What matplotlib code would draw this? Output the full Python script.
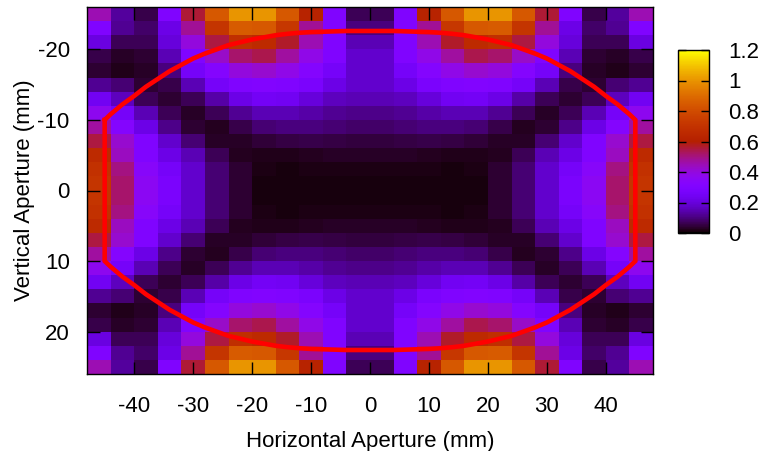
import numpy as np
import matplotlib
matplotlib.use("Agg")
import matplotlib.pyplot as plt

plt.rcParams['font.family'] = ['Liberation Sans', 'DejaVu Sans']
plt.rcParams['font.size'] = 16
plt.rcParams['axes.unicode_minus'] = False

# cell centres (mm)
x_mm = [-46, -42, -38, -34, -30, -26, -22, -18, -14, -10, -6, -2,
        2, 6, 10, 14, 18, 22, 26, 30, 34, 38, 42, 46]
y_mm = [-25, -23, -21, -19, -17, -15, -13, -11, -9, -7, -5, -3, -1,
        1, 3, 5, 7, 9, 11, 13, 15, 17, 19, 21, 23, 25]

# map is symmetric in x and y, read the top-left quarter (y=-25..-1, x=-46..-2)
quarter = [
    [0.45, 0.13, 0.06, 0.30, 0.56, 0.84, 1.00, 1.00, 0.84, 0.62, 0.30, 0.07],
    [0.30, 0.12, 0.08, 0.22, 0.48, 0.71, 0.85, 0.84, 0.72, 0.48, 0.30, 0.10],
    [0.21, 0.07, 0.07, 0.20, 0.40, 0.55, 0.68, 0.66, 0.57, 0.45, 0.30, 0.15],
    [0.06, 0.03, 0.04, 0.15, 0.30, 0.43, 0.52, 0.54, 0.47, 0.38, 0.30, 0.18],
    [0.04, 0.02, 0.03, 0.10, 0.26, 0.32, 0.40, 0.42, 0.38, 0.32, 0.26, 0.18],
    [0.12, 0.09, 0.04, 0.06, 0.15, 0.26, 0.30, 0.31, 0.30, 0.28, 0.22, 0.18],
    [0.24, 0.16, 0.07, 0.04, 0.07, 0.14, 0.22, 0.25, 0.24, 0.20, 0.16, 0.15],
    [0.37, 0.26, 0.15, 0.07, 0.03, 0.07, 0.12, 0.15, 0.15, 0.14, 0.12, 0.11],
    [0.47, 0.32, 0.22, 0.11, 0.04, 0.025, 0.06, 0.09, 0.10, 0.10, 0.09, 0.08],
    [0.55, 0.42, 0.30, 0.18, 0.09, 0.03, 0.03, 0.045, 0.055, 0.06, 0.055, 0.05],
    [0.66, 0.44, 0.30, 0.22, 0.15, 0.07, 0.025, 0.02, 0.02, 0.028, 0.03, 0.03],
    [0.69, 0.50, 0.34, 0.26, 0.18, 0.09, 0.04, 0.015, 0.012, 0.015, 0.018, 0.018],
    [0.71, 0.52, 0.36, 0.28, 0.18, 0.09, 0.04, 0.014, 0.01, 0.011, 0.013, 0.014],
]

# aperture outline, left half of the upper edge (x, |y| in mm)
edge_x = [-45, -44, -42, -40, -38, -36, -34, -32, -30, -28, -26, -24,
          -22, -20, -18, -16, -14, -12, -10, -8, -6, -4, -2, 0]
edge_y = [10.0, 10.8, 12.2, 13.4, 14.7, 15.8, 16.9, 17.8, 18.7, 19.4, 20.0, 20.6,
          21.0, 21.4, 21.7, 22.0, 22.2, 22.35, 22.45, 22.5, 22.55, 22.6, 22.6, 22.6]

cb_ticks = [0, 0.2, 0.4, 0.6, 0.8, 1.0, 1.2]
cb_labels = ['0', '0.2', '0.4', '0.6', '0.8', '1', '1.2']

q = np.array(quarter)
half = np.hstack([q, q[:, ::-1]])
z = np.vstack([half, half[::-1]])

W, H = 765, 451
fig = plt.figure(figsize=(W / 100, H / 100), dpi=100)
ax = fig.add_axes([87 / W, 1 - 374 / H, (653 - 87) / W, (374 - 7) / H])

mesh = ax.pcolormesh(x_mm, y_mm, z, cmap='gnuplot', vmin=0, vmax=1.2,
                     shading='nearest', antialiased=False, linewidth=0)

# closed outline: upper arc left->right, then lower arc right->left
arc_x = edge_x + [-v for v in edge_x[::-1][1:]]
arc_y = edge_y + edge_y[::-1][1:]
out_x = arc_x + arc_x[::-1] + [arc_x[0]]
out_y = [-v for v in arc_y] + arc_y[::-1] + [-arc_y[0]]
ax.plot(out_x, out_y, color='#ff0000', lw=3.3, solid_joinstyle='miter')

ax.set_xlim(-48, 48)
ax.set_ylim(26, -26)
ax.set_xticks(range(-40, 41, 10))
ax.set_yticks([-20, -10, 0, 10, 20])
ax.tick_params(direction='in', length=9, width=1, top=True, right=True, color='black')
ax.tick_params(axis='x', pad=16)
ax.tick_params(axis='y', pad=12.5)
for s in ax.spines.values():
    s.set_linewidth(1)
ax.set_xlabel('Horizontal Aperture (mm)', labelpad=10)
ax.set_ylabel('Vertical Aperture (mm)', labelpad=2)

cax = fig.add_axes([678 / W, 1 - 233 / H, 31 / W, 183 / H])
cb = fig.colorbar(mesh, cax=cax)
cb.set_ticks(cb_ticks)
cb.set_ticklabels(cb_labels)
cb.ax.tick_params(direction='in', left=True, right=True, length=5.5, width=1, pad=13.5)
cb.outline.set_linewidth(1)

fig.savefig('out.png', dpi=100)
